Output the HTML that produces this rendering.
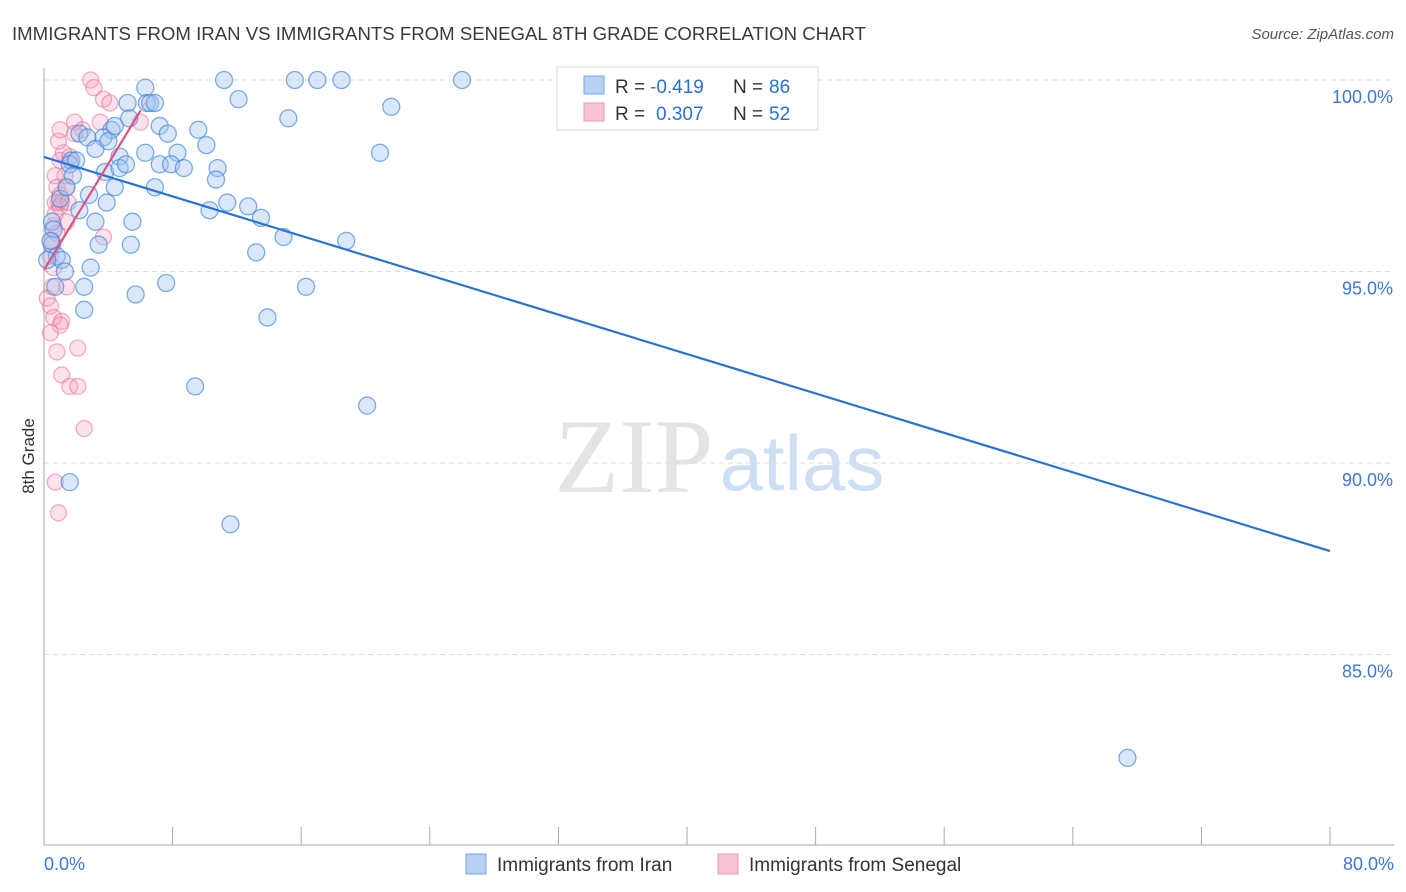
<!DOCTYPE html>
<html><head><meta charset="utf-8"><style>
body{margin:0;background:#fff;font-family:"Liberation Sans",sans-serif;}
svg{display:block}
</style></head><body>
<svg id="chart" width="1406" height="892">
<text x="12" y="40" font-size="18.6" fill="#3a3a3a" textLength="854">IMMIGRANTS FROM IRAN VS IMMIGRANTS FROM SENEGAL 8TH GRADE CORRELATION CHART</text>
<text x="1394" y="39" font-size="15" fill="#555" text-anchor="end" font-style="italic">Source: ZipAtlas.com</text>
<text x="34" y="456" font-size="17" fill="#333" transform="rotate(-90 34 456)" text-anchor="middle">8th Grade</text>
<g><text x="634" y="492" font-size="106" fill="#e4e4e4" font-family="Liberation Serif,serif" text-anchor="middle">ZIP</text><text x="802" y="490" font-size="78" fill="#cfdff3" text-anchor="middle">atlas</text></g>
<g id="grid"></g><g id="axes"></g><g id="pts"></g><g id="lines"></g>
<g>
<rect x="557" y="67" width="261" height="63" fill="#fff" stroke="#ddd"/>
<rect x="584" y="76" width="20" height="18" fill="#b8d1f3" stroke="#7aa5e6"/>
<rect x="584" y="103" width="20" height="18" fill="#f7c3d2" stroke="#ee9ab4"/>
<text x="615" y="93" font-size="19" fill="#333">R =</text>
<text x="650" y="93" font-size="19" fill="#2b6fd6">-0.419</text>
<text x="733" y="93" font-size="19" fill="#333">N =</text>
<text x="769" y="93" font-size="19" fill="#2b6fd6">86</text>
<text x="615" y="120" font-size="19" fill="#333">R =</text>
<text x="656" y="120" font-size="19" fill="#2b6fd6">0.307</text>
<text x="733" y="120" font-size="19" fill="#333">N =</text>
<text x="769" y="120" font-size="19" fill="#2b6fd6">52</text>
</g>
<g>
<rect x="466" y="854" width="20" height="20" fill="#b8d1f3" stroke="#7aa5e6"/>
<text x="497" y="871" font-size="19" fill="#333">Immigrants from Iran</text>
<rect x="718" y="854" width="20" height="20" fill="#f7c3d2" stroke="#ee9ab4"/>
<text x="749" y="871" font-size="19" fill="#333">Immigrants from Senegal</text>
</g>
</svg>
<script>
const xTicks=[0,8,16,24,32,40,48,56,64,72,80];
const yTicks=[100,95,90,85];
const yTickLabels=["100.0%","95.0%","90.0%","85.0%"];
const iranX=[6.3,5.2,6.4,6.6,6.9,11.2,15.6,17.0,18.5,26.0,12.1,21.6,15.2,5.3,4.2,2.2,2.7,3.7,7.2,7.7,9.6,10.1,6.3,8.3,4.7,1.7,1.6,2.0,3.2,3.8,4.7,5.1,7.2,7.9,8.7,10.8,20.9,1.8,4.4,6.9,10.7,2.8,3.9,11.4,10.3,12.7,13.5,2.2,3.2,5.5,14.9,18.8,3.4,5.4,13.2,0.5,0.6,0.5,0.8,1.1,2.9,2.5,7.6,16.3,5.7,2.5,13.9,9.4,20.1,1.6,11.6,67.4,0.4,0.2,0.7,1.3,1.0,1.4,4.0,4.4];
const iranY=[99.8,99.4,99.4,99.4,99.4,100,100,100,100,100,99.5,99.3,99.0,99.0,98.7,98.6,98.5,98.5,98.8,98.6,98.7,98.3,98.1,98.1,98.0,97.9,97.8,97.9,98.2,97.6,97.7,97.8,97.8,97.8,97.7,97.7,98.1,97.5,97.2,97.2,97.4,97.0,96.8,96.8,96.6,96.7,96.4,96.6,96.3,96.3,95.9,95.8,95.7,95.7,95.5,96.3,96.1,95.7,95.4,95.3,95.1,94.6,94.7,94.6,94.4,94.0,93.8,92.0,91.5,89.5,88.4,82.3,95.8,95.3,94.6,95.0,96.9,97.2,98.4,98.8];
const senX=[2.9,3.1,3.7,4.1,1.9,1.0,2.4,3.5,6.0,1.2,1.0,1.6,1.3,0.7,0.8,1.0,0.9,1.1,1.4,0.7,1.0,1.5,0.6,0.8,0.5,3.7,0.4,0.6,0.5,1.4,0.2,0.4,0.6,1.1,1.0,0.4,0.8,2.1,1.1,1.6,2.1,2.5,0.7,0.9,0.7,1.4,0.9,1.9];
const senY=[100,99.8,99.5,99.4,98.9,98.7,98.7,98.9,98.9,98.1,97.9,98.0,97.5,97.5,97.2,97.0,96.8,96.8,97.2,96.8,96.7,96.8,96.2,96.0,95.8,95.9,95.4,95.1,94.6,94.6,94.3,94.1,93.8,93.7,93.6,93.4,92.9,93.0,92.3,92.0,92.0,90.9,89.5,88.7,96.5,96.3,98.4,98.6];
const iranTrend=[97.99,87.70];
const senTrend=[95.04,0.693];
const NS="http://www.w3.org/2000/svg";
const X=v=>44+v/80*1286, Y=v=>80+(100-v)*38.3;
function mk(tag,attrs,parent){const e=document.createElementNS(NS,tag);for(const k in attrs)e.setAttribute(k,attrs[k]);document.getElementById(parent).appendChild(e);return e;}
yTicks.forEach((t,i)=>{
 const l=mk('line',{x1:44,x2:1394,y1:Y(t),y2:Y(t),stroke:'#ddd','stroke-dasharray':'5,4'},'grid');
 
 
 const tx=mk('text',{x:1393,y:Y(t)+23,'font-size':18,fill:'#3b78d8','text-anchor':'end'},'axes');
 tx.textContent=yTickLabels[i];
 
 
});
const ax=mk('line',{x1:44,x2:44,y1:68,y2:845,stroke:'#aaa'},'axes');


const bx=mk('line',{x1:44,x2:1394,y1:845,y2:845,stroke:'#aaa'},'axes');


xTicks.forEach(t=>{
 const l=mk('line',{x1:X(t),x2:X(t),y1:827,y2:845,stroke:'#aaa'},'axes');
 
 
});
[[0,'0.0%','start',44],[80,'80.0%','end',1394]].forEach(d=>{
 const t=mk('text',{x:d[3],y:870,'font-size':18,fill:'#3b78d8','text-anchor':d[2]},'axes');
 t.textContent=d[1];
 
 
});
senX.forEach((x,i)=>{
 const c=mk('circle',{cx:X(x),cy:Y(senY[i]),r:8,fill:'rgba(244,160,186,0.3)',stroke:'rgba(232,110,150,0.55)','stroke-width':1.3},'pts');
 
 
});
iranX.forEach((x,i)=>{
 const c=mk('circle',{cx:X(x),cy:Y(iranY[i]),r:8.5,fill:'rgba(160,196,240,0.4)',stroke:'rgba(60,130,220,0.65)','stroke-width':1.3},'pts');
 
 
});
const bl=mk('line',{x1:X(0),y1:Y(iranTrend[0]),x2:X(80),y2:Y(iranTrend[1]),stroke:'#2a72d8','stroke-width':2.2},'lines');


const pl=mk('line',{x1:X(0),y1:Y(senTrend[0]),x2:X(6),y2:Y(senTrend[0]+6*senTrend[1]),stroke:'#e2517f','stroke-width':2.2},'lines');


const pd=mk('line',{x1:X(6),y1:Y(senTrend[0]+6*senTrend[1]),x2:X(7),y2:Y(senTrend[0]+7*senTrend[1]),stroke:'#e99ab3','stroke-width':1.2,'stroke-dasharray':'3,3'},'lines');


</script>
</body></html>
